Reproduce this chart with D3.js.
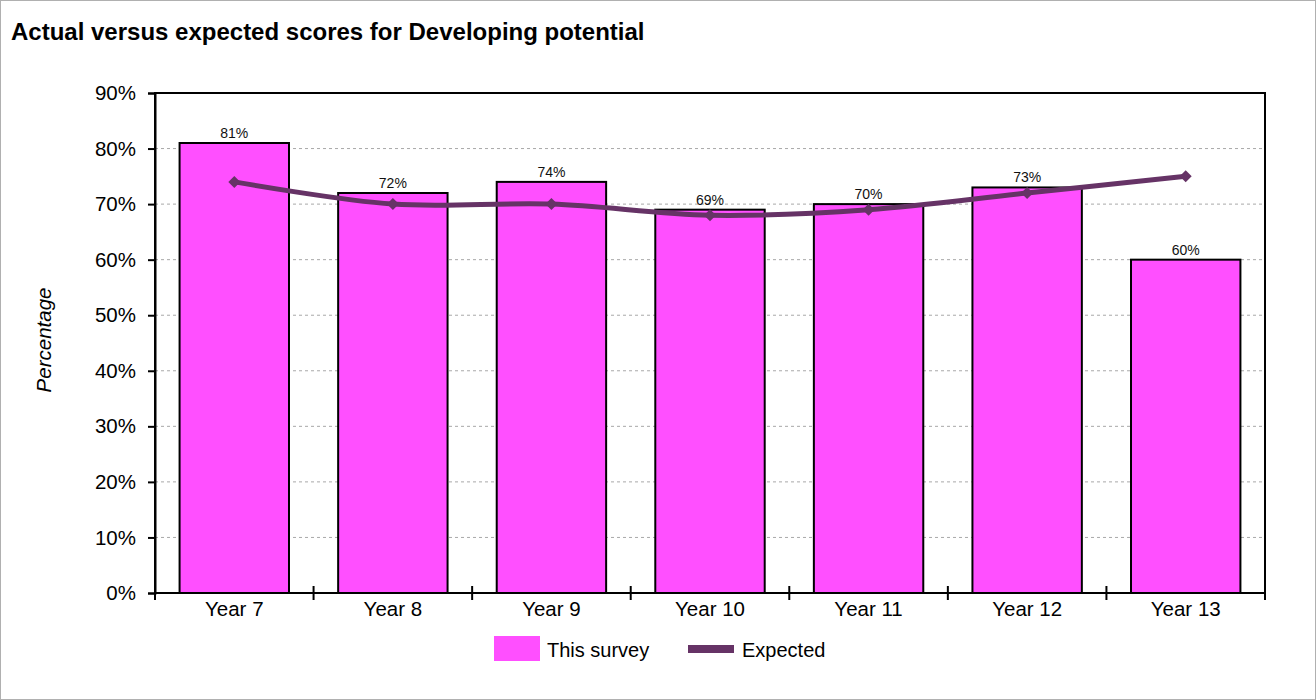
<!DOCTYPE html>
<html><head><meta charset="utf-8">
<script src="https://cdn.jsdelivr.net/npm/d3@7"></script>
<style>body{margin:0;background:#fff;}svg{display:block;font-family:Arial,"Liberation Sans",sans-serif;}</style>
</head><body>
<svg id="c" width="1316" height="700"></svg>
<script>
const categories = ["Year 7","Year 8","Year 9","Year 10","Year 11","Year 12","Year 13"];
const surveyValues = [81,72,74,69,70,73,60];
const expectedValues = [74,70,70,68,69,72,75];
const yTicks = [0,10,20,30,40,50,60,70,80,90];

const svg = d3.select("#c");
const W=1316,H=700;
const m={l:155,r:1265,t:93,b:593};
svg.append("rect").attr("x",0.5).attr("y",0.5).attr("width",W-1).attr("height",H-1).attr("fill","#fff").attr("stroke","#b0b0b0");
svg.append("text").attr("x",11).attr("y",40).attr("font-size",24).attr("font-weight","bold").text("Actual versus expected scores for Developing potential");

const x=d3.scaleBand().domain(categories).range([m.l,m.r]).paddingInner(0.31).paddingOuter(0.155);
const xb=d3.scaleBand().domain(categories).range([m.l,m.r]);
const y=d3.scaleLinear().domain([0,90]).range([m.b,m.t]);

// grid
svg.append("g").selectAll("line").data(yTicks.filter(d=>d>0&&d<90)).join("line")
 .attr("x1",m.l).attr("x2",m.r).attr("y1",d=>y(d)).attr("y2",d=>y(d))
 .attr("stroke","#a8a8a8").attr("stroke-dasharray","3,3").attr("stroke-width",1);

// bars
svg.append("g").selectAll("rect").data(surveyValues).join("rect")
 .attr("x",(d,i)=>x(categories[i])).attr("width",x.bandwidth())
 .attr("y",d=>y(d)).attr("height",d=>y(0)-y(d))
 .attr("fill","#ff4fff").attr("stroke","#000").attr("stroke-width",2);

svg.append("g").selectAll("text").data(surveyValues).join("text")
 .attr("x",(d,i)=>x(categories[i])+x.bandwidth()/2).attr("y",d=>y(d)-5)
 .attr("text-anchor","middle").attr("font-size",14).attr("fill","#111").text(d=>d+"%");

// frame
svg.append("rect").attr("x",m.l).attr("y",m.t).attr("width",m.r-m.l).attr("height",m.b-m.t)
 .attr("fill","none").attr("stroke","#000").attr("stroke-width",2);

// y axis
const ya=svg.append("g").attr("transform",`translate(${m.l},0)`)
 .call(d3.axisLeft(y).tickValues(yTicks).tickFormat(d=>d+"%").tickSize(7).tickPadding(12));
ya.select(".domain").attr("stroke","#000").attr("stroke-width",2);
ya.selectAll(".tick line").attr("stroke","#000").attr("stroke-width",2);
ya.selectAll(".tick text").attr("font-size",20.5).attr("fill","#000").attr("font-family","Arial, 'Liberation Sans', sans-serif");

// x axis
const xa=svg.append("g").attr("transform",`translate(0,${m.b})`)
 .call(d3.axisBottom(xb).tickSize(0).tickPadding(8));
xa.select(".domain").remove();
xa.selectAll(".tick text").attr("font-size",20.5).attr("fill","#000").attr("font-family","Arial, 'Liberation Sans', sans-serif").attr("dy","0.71em");
const bounds=categories.map(c=>xb(c)).concat([m.r]);
svg.append("g").selectAll("line").data(bounds).join("line")
 .attr("x1",d=>d).attr("x2",d=>d).attr("y1",m.b-7).attr("y2",m.b+7)
 .attr("stroke","#000").attr("stroke-width",2);
svg.append("line").attr("x1",m.l).attr("x2",m.r).attr("y1",m.b).attr("y2",m.b).attr("stroke","#000").attr("stroke-width",2);

// line
const cx=(i)=>xb(categories[i])+xb.bandwidth()/2;
const line=d3.line().x((d,i)=>cx(i)).y(d=>y(d)).curve(d3.curveCardinal.tension(0));
svg.append("path").datum(expectedValues).attr("d",line).attr("fill","none")
 .attr("stroke","#663366").attr("stroke-width",5);
svg.append("g").selectAll("path").data(expectedValues).join("path")
 .attr("transform",(d,i)=>`translate(${cx(i)},${y(d)})`)
 .attr("d","M0,-6L6,0L0,6L-6,0Z").attr("fill","#663366");

// y label
svg.append("text").attr("transform","translate(51,340) rotate(-90)").attr("text-anchor","middle")
 .attr("font-size",20.5).attr("font-style","italic").text("Percentage");

// legend
svg.append("rect").attr("x",494).attr("y",636).attr("width",46).attr("height",25).attr("fill","#ff4fff");
svg.append("text").attr("x",547).attr("y",657).attr("font-size",20).text("This survey");
svg.append("rect").attr("x",688).attr("y",645).attr("width",46).attr("height",8).attr("fill","#663366");
svg.append("text").attr("x",742).attr("y",657).attr("font-size",20).text("Expected");
</script>
</body></html>
